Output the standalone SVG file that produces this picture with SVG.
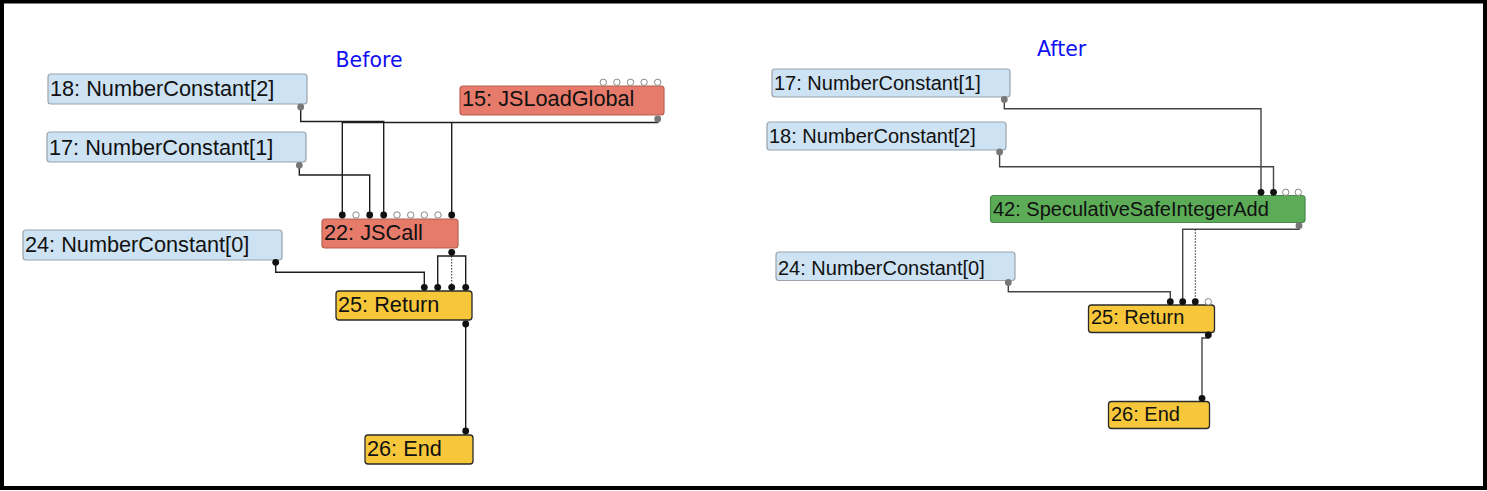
<svg xmlns="http://www.w3.org/2000/svg" width="1487" height="491" viewBox="0 0 1487 491">
<style>
.bg{fill:#fff}
.frame{fill:none;stroke:#000;stroke-width:4}
.title{font-family:"DejaVu Sans",sans-serif;font-size:20.5px;fill:#1010f0}
.lbl{font-family:"Liberation Sans",Arial,sans-serif;fill:#111}
.b{font-size:21.7px}
.a{font-size:20px}
.const{fill:#cde2f2;stroke:#9aa3ab;stroke-width:1.2}
.js{fill:#e77b6b;stroke:#b8604f;stroke-width:1.2}
.ctl{fill:#f6c73b;stroke:#2a2a2a;stroke-width:1.3}
.sim{fill:#5cab57;stroke:#46884a;stroke-width:1.2}
.edge{fill:none;stroke:#1e1e1e;stroke-width:1.4}
.edgeA{fill:none;stroke:#444;stroke-width:1.4}
.dot{fill:none;stroke:#222;stroke-width:1;stroke-dasharray:1.5 1.5}
.in{fill:#111}
.open{fill:#fff;stroke:#888;stroke-width:1}
.out{fill:#777}
</style>
<rect class="bg" x="0" y="0" width="1487" height="491"/>
<rect class="frame" x="2" y="1.5" width="1483" height="486.5"/>
<text class="title" x="335.5" y="66.5">Before</text>
<text class="title" x="1037" y="56">After</text>

<g id="connectors">
  <!-- Before -->
  <path class="edge" d="M300.7,107 V121.5 H383.7 V215 M342.3,121.5 V215"/>
  <path class="edge" d="M657.7,119 V122.5 H342.3 M451.7,122.5 V215"/>
  <path class="edge" d="M299.3,165.3 V175 H369.7 V215"/>
  <path class="edge" d="M451.7,252.3 V256 M437.7,287 V256 H465.7 V287"/>
  <path class="dot" d="M451.7,256 V287"/>
  <path class="edge" d="M275.7,262.3 V272.3 H424.3 V287"/>
  <path class="edge" d="M465.7,324 V431"/>
  <!-- After -->
  <path class="edgeA" d="M1004.3,99.5 V108.7 H1261 V192.3"/>
  <path class="edgeA" d="M999.6,152 V166.7 H1273.5 V192.3"/>
  <path class="edgeA" d="M1299,225.7 V229.3 H1182.7 V301.7"/>
  <path class="dot" d="M1195.3,229.3 V301.7"/>
  <path class="edgeA" d="M1008.3,282.5 V291.7 H1170.3 V301.7"/>
  <path class="edgeA" d="M1208.3,335 V338 H1202 V398.3"/>
</g>

<!-- Before nodes -->
<g id="b18">
  <rect class="const" x="48" y="74" width="259" height="30" rx="3"/>
  <text class="lbl b" x="50" y="96">18: NumberConstant[2]</text>
  <circle class="out" cx="300.7" cy="107" r="3.4"/>
</g>
<g id="b17">
  <rect class="const" x="47" y="132" width="259" height="30" rx="3"/>
  <text class="lbl b" x="49" y="155">17: NumberConstant[1]</text>
  <circle class="out" cx="299.3" cy="165.3" r="3.4"/>
</g>
<g id="b15">
  <rect class="js" x="460" y="86" width="204" height="29" rx="3"/>
  <text class="lbl b" x="462" y="106">15: JSLoadGlobal</text>
  <circle class="open" cx="603.3" cy="82.3" r="3.2"/>
  <circle class="open" cx="616.9" cy="82.3" r="3.2"/>
  <circle class="open" cx="630.5" cy="82.3" r="3.2"/>
  <circle class="open" cx="644.1" cy="82.3" r="3.2"/>
  <circle class="open" cx="657.7" cy="82.3" r="3.2"/>
  <circle class="out" cx="657.7" cy="119" r="3.4"/>
</g>
<g id="b22">
  <rect class="js" x="322" y="219" width="136" height="29" rx="3"/>
  <text class="lbl b" x="324" y="240">22: JSCall</text>
  <circle class="in" cx="342.3" cy="215" r="3.4"/>
  <circle class="open" cx="356" cy="215" r="3.2"/>
  <circle class="in" cx="369.7" cy="215" r="3.4"/>
  <circle class="in" cx="383.7" cy="215" r="3.4"/>
  <circle class="open" cx="397" cy="215" r="3.2"/>
  <circle class="open" cx="410.7" cy="215" r="3.2"/>
  <circle class="open" cx="424.3" cy="215" r="3.2"/>
  <circle class="open" cx="438" cy="215" r="3.2"/>
  <circle class="in" cx="451.7" cy="215" r="3.4"/>
  <circle class="in" cx="451.7" cy="252.3" r="3.4"/>
</g>
<g id="b24">
  <rect class="const" x="23" y="230" width="259" height="30" rx="3"/>
  <text class="lbl b" x="25" y="252">24: NumberConstant[0]</text>
  <circle class="in" cx="275.7" cy="262.3" r="3.4"/>
</g>
<g id="b25">
  <rect class="ctl" x="336" y="291" width="136" height="29" rx="3"/>
  <text class="lbl b" x="338" y="312">25: Return</text>
  <circle class="in" cx="424.3" cy="287.3" r="3.4"/>
  <circle class="in" cx="437.7" cy="287.3" r="3.4"/>
  <circle class="in" cx="451.7" cy="287.3" r="3.4"/>
  <circle class="in" cx="465.7" cy="287.3" r="3.4"/>
  <circle class="in" cx="465.7" cy="324" r="3.4"/>
</g>
<g id="b26">
  <rect class="ctl" x="365" y="435" width="108" height="29" rx="3"/>
  <text class="lbl b" x="367" y="455.5">26: End</text>
  <circle class="in" cx="465.7" cy="431" r="3.4"/>
</g>

<!-- After nodes -->
<g id="a17">
  <rect class="const" x="772" y="69" width="238" height="28" rx="3"/>
  <text class="lbl a" x="774" y="90">17: NumberConstant[1]</text>
  <circle class="out" cx="1004.3" cy="99.5" r="3.4"/>
</g>
<g id="a18">
  <rect class="const" x="767" y="122" width="239" height="28" rx="3"/>
  <text class="lbl a" x="769" y="143">18: NumberConstant[2]</text>
  <circle class="out" cx="999.6" cy="152" r="3.4"/>
</g>
<g id="a42">
  <rect class="sim" x="990.5" y="195.5" width="314.5" height="27" rx="3"/>
  <text class="lbl a" x="993" y="215.5">42: SpeculativeSafeIntegerAdd</text>
  <circle class="in" cx="1261" cy="192.3" r="3.4"/>
  <circle class="in" cx="1273.5" cy="192.3" r="3.4"/>
  <circle class="open" cx="1285.7" cy="192.3" r="3.2"/>
  <circle class="open" cx="1298.3" cy="192.3" r="3.2"/>
  <circle class="out" cx="1299" cy="225.7" r="3.4"/>
</g>
<g id="a24">
  <rect class="const" x="776" y="252" width="239" height="28.5" rx="3"/>
  <text class="lbl a" x="778" y="275">24: NumberConstant[0]</text>
  <circle class="out" cx="1008.3" cy="282.5" r="3.4"/>
</g>
<g id="a25">
  <rect class="ctl" x="1088.5" y="305" width="126" height="27.5" rx="3"/>
  <text class="lbl a" x="1091" y="324">25: Return</text>
  <circle class="in" cx="1170.3" cy="301.7" r="3.4"/>
  <circle class="in" cx="1182.7" cy="301.7" r="3.4"/>
  <circle class="in" cx="1195.3" cy="301.7" r="3.4"/>
  <circle class="open" cx="1208.3" cy="301.7" r="3.2"/>
  <circle class="in" cx="1208.3" cy="335" r="3.4"/>
</g>
<g id="a26">
  <rect class="ctl" x="1108.5" y="401.5" width="101" height="27" rx="3"/>
  <text class="lbl a" x="1111" y="421">26: End</text>
  <circle class="in" cx="1202" cy="398.3" r="3.4"/>
</g>
</svg>
